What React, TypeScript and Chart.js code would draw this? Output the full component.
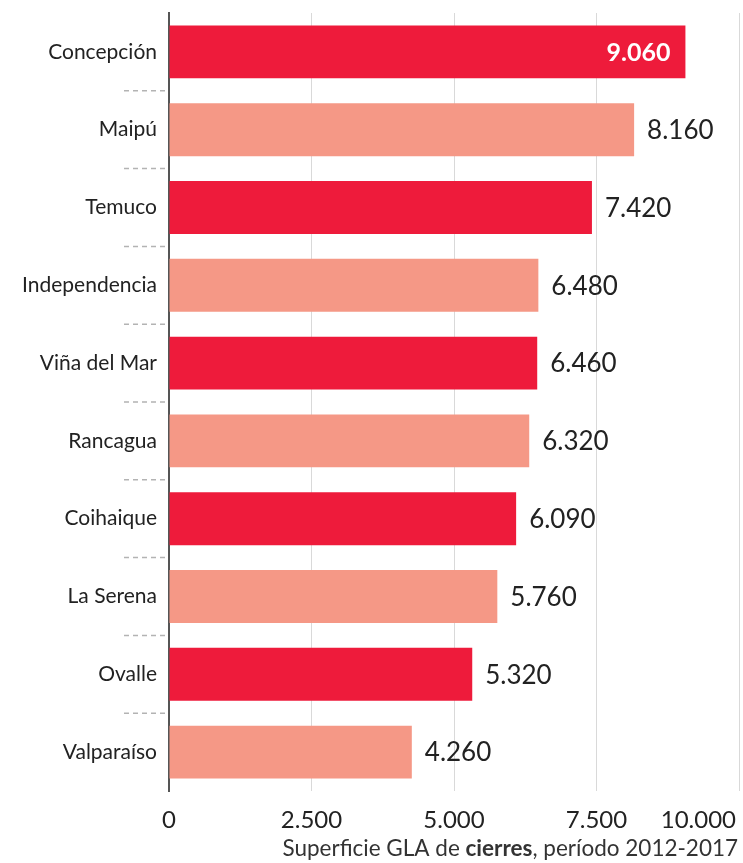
import React, { useEffect, useRef } from "react";
import { Chart, registerables } from "chart.js";

Chart.register(...registerables);

const categories = [
  "Concepción",
  "Maipú",
  "Temuco",
  "Independencia",
  "Viña del Mar",
  "Rancagua",
  "Coihaique",
  "La Serena",
  "Ovalle",
  "Valparaíso",
];
const values = [9060, 8160, 7420, 6480, 6460, 6320, 6090, 5760, 5320, 4260];
const xTicks = [0, 2500, 5000, 7500, 10000];
const titleParts = ["Superficie GLA de ", "cierres", ", período 2012-2017"];

const RED = "#EE1B3B";
const SALMON = "#F59886";
const FONT = "Lato, 'Noto Sans', sans-serif";

function fmt(n: number): string {
  return String(n).replace(/\B(?=(\d{3})+(?!\d))/g, ".");
}

const overlayPlugin = {
  id: "overlay",
  afterDraw(chart: any) {
    const ctx = chart.ctx;
    const x = chart.scales.x;
    const y = chart.scales.y;
    const area = chart.chartArea;
    const left = x.getPixelForValue(0);
    const right = x.getPixelForValue(10000);
    ctx.save();
    // dashed separators between categories
    ctx.strokeStyle = "#b3b3b3";
    ctx.lineWidth = 1.5;
    ctx.setLineDash([5, 4]);
    for (let i = 0; i < categories.length - 1; i++) {
      const yy = (y.getPixelForValue(i) + y.getPixelForValue(i + 1)) / 2;
      ctx.beginPath();
      ctx.moveTo(left - 45, yy);
      ctx.lineTo(left - 2, yy);
      ctx.stroke();
    }
    ctx.setLineDash([]);

    // value labels
    const meta = chart.getDatasetMeta(0);
    meta.data.forEach((bar: any, i: number) => {
      const v = values[i];
      ctx.textBaseline = "middle";
      if (i === 0) {
        ctx.font = `bold 25px ${FONT}`;
        ctx.fillStyle = "#ffffff";
        ctx.textAlign = "right";
        ctx.fillText(fmt(v), bar.x - 15, bar.y + 1);
      } else {
        ctx.font = `26px ${FONT}`;
        ctx.fillStyle = "#222222";
        ctx.textAlign = "left";
        ctx.fillText(fmt(v), bar.x + 13, bar.y + 1);
      }
    });

    // x tick labels
    ctx.font = `24px ${FONT}`;
    ctx.fillStyle = "#222222";
    ctx.textBaseline = "alphabetic";
    xTicks.forEach((t, i) => {
      const px = x.getPixelForValue(t);
      if (i === xTicks.length - 1) {
        ctx.textAlign = "right";
        ctx.fillText(fmt(t), px - 3, area.bottom + 37);
      } else {
        ctx.textAlign = "center";
        ctx.fillText(fmt(t), px, area.bottom + 37);
      }
    });

    // axis title with bold part, ink right-aligned at the axis end
    const fonts = [`22.5px ${FONT}`, `bold 22.5px ${FONT}`, `22.5px ${FONT}`];
    ctx.textAlign = "left";
    ctx.fillStyle = "#333333";
    const parts = titleParts.map((p) => p.normalize("NFC"));
    const widths = parts.map((p, i) => {
      ctx.font = fonts[i];
      return ctx.measureText(p).width;
    });
    ctx.font = fonts[2];
    const lastInk = ctx.measureText(parts[2]).actualBoundingBoxRight;
    const total = widths[0] + widths[1] + widths[2];
    const inkRightFromStart = widths[0] + widths[1] + (lastInk || widths[2]);
    let cx = right - 1 - inkRightFromStart;
    parts.forEach((p, i) => {
      ctx.font = fonts[i];
      ctx.fillText(p, cx, area.bottom + 65);
      cx += widths[i];
    });
    void total;
    ctx.restore();
  },
};

export default function App() {
  const ref = useRef<HTMLCanvasElement>(null);
  useEffect(() => {
    if (!ref.current) return;
    const chart = new Chart(ref.current, {
      type: "bar",
      data: {
        labels: categories,
        datasets: [
          {
            data: values,
            backgroundColor: values.map((_, i) => (i % 2 === 0 ? RED : SALMON)),
            borderWidth: 0,
            categoryPercentage: 1,
            barPercentage: 0.68,
          },
        ],
      },
      options: {
        indexAxis: "y",
        animation: false,
        responsive: false,
        maintainAspectRatio: false,
        layout: { padding: { top: 13, right: 4, left: 0, bottom: 0 } },
        plugins: {
          legend: { display: false },
          tooltip: { enabled: false },
        },
        scales: {
          x: {
            min: 0,
            max: 10000,
            afterBuildTicks: (scale: any) => {
              scale.ticks = xTicks.map((v) => ({ value: v }));
            },
            afterFit: (scale: any) => {
              scale.height = 72;
              scale.paddingLeft = 0;
              scale.paddingRight = 0;
            },
            ticks: { display: false },
            grid: {
              display: true,
              color: "#d9d9d9",
              lineWidth: 1,
              drawTicks: false,
            },
            border: { display: false },
          },
          y: {
            afterFit: (scale: any) => {
              scale.width = 169;
              scale.paddingTop = 0;
              scale.paddingBottom = 0;
            },
            ticks: {
              padding: 12,
              color: "#222222",
              font: { family: FONT, size: 21 },
            },
            grid: { display: false, drawTicks: false },
            border: { display: true, color: "#555555", width: 2 },
          },
        },
      },
      plugins: [overlayPlugin],
    });
    return () => chart.destroy();
  }, []);
  return (
    <div style={{ position: "absolute", left: 0, top: 0, width: 743, height: 863 }}>
      <canvas ref={ref} width={743} height={863} style={{ display: "block" }} />
    </div>
  );
}
